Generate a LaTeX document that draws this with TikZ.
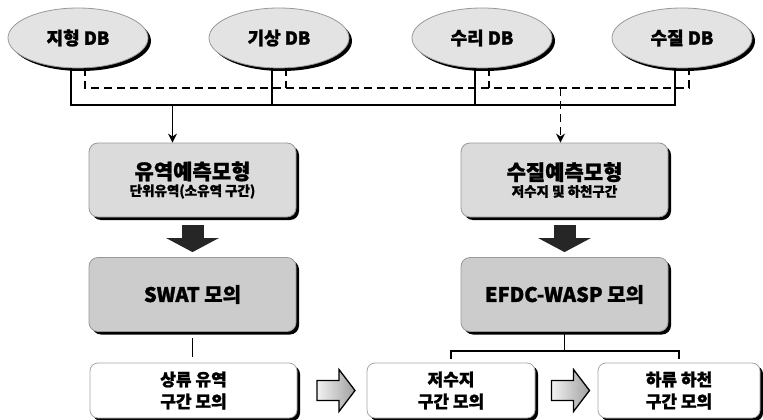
\documentclass[tikz,border=0pt]{standalone}
\usepackage{fontspec}
\setmainfont{Noto Sans CJK KR}[BoldFeatures={FakeBold=1.2}]
\usetikzlibrary{shapes.geometric,arrows.meta,calc,shadows}
\begin{document}
\begin{tikzpicture}[x=1pt,y=-1pt,
  shd/.style={drop shadow={shadow xshift=3pt,shadow yshift=-3pt,fill=black,opacity=1}},
  db/.style={ellipse, shd, draw=gray!80, line width=0.8pt, fill=gray!22,
    minimum width=140pt, minimum height=60pt, inner sep=0pt,
    font=\fontsize{18}{20}\selectfont\bfseries},
  model/.style={rectangle, rounded corners=9pt, shd, draw=gray!80, line width=0.8pt,
    fill=gray!28, minimum width=207pt, minimum height=74pt, align=center, inner sep=0pt,
    font=\bfseries},
  sim/.style={model, fill=gray!40, font=\fontsize{20}{24}\selectfont\bfseries},
  sect/.style={rectangle, rounded corners=8pt, shd, draw=gray!70, line width=0.8pt,
    fill=white, minimum height=55pt, align=center, inner sep=0pt,
    font=\fontsize{17}{22}\selectfont\bfseries},
  link/.style={line width=1.9pt, draw=black},
  dlink/.style={link, dash pattern=on 8pt off 5pt},
  tip/.style={-{Stealth[length=9pt,width=9pt]}},
  bigarrow/.style={line width=22pt, draw=black!85, -{Triangle[width=52pt,length=14pt]}},
  hollow/.style={draw=black, line width=1.3pt, left color=gray!10, right color=gray!75}
]
\useasboundingbox (0,0) rectangle (763,420);

% database ellipses
\node[db] (dbA) at (78,38) {지형 DB};
\node[db] (dbB) at (279,38) {기상 DB};
\node[db] (dbC) at (482,38) {수리 DB};
\node[db] (dbD) at (682,38) {수질 DB};

% model boxes
\node[model] (boxA) at (192.5,180)
  {\fontsize{21}{24}\selectfont 유역예측모형\\[2pt]\fontsize{13.5}{16}\selectfont 단위유역(소유역 구간)};
\node[model] (boxB) at (564.5,180)
  {\fontsize{21}{24}\selectfont 수질예측모형\\[2pt]\fontsize{13.5}{16}\selectfont 저수지 및 하천구간};

\node[sim] (swat) at (192.5,294.5) {SWAT 모의};
\node[sim] (efdc) at (564.5,294.5) {EFDC-WASP 모의};

% section boxes
\node[sect, minimum width=207pt] (up) at (193.5,390.5) {상류 유역\\구간 모의};
\node[sect, minimum width=168pt] (res) at (451,390.5) {저수지\\구간 모의};
\node[sect, minimum width=162pt] (down) at (679,390.5) {하류 하천\\구간 모의};

% solid bus (to watershed model)
\coordinate (sA) at ($(dbA.south)+(-7,37)$);
\coordinate (sD) at ($(dbD.south)+(-7,37)$);
\draw[link] ($(dbA.south)+(-7,0)$) -- (sA) -- (sD) -- ($(dbD.south)+(-7,0)$);
\draw[link] ($(dbB.south)+(-7,0)$) -- ($(dbB.south)+(-7,37)$);
\draw[link] ($(dbC.south)+(-7,0)$) -- ($(dbC.south)+(-7,37)$);

% dashed bus (to water quality model)
\coordinate (dA) at ($(dbA.south)+(7,20)$);
\coordinate (dD) at ($(dbD.south)+(7,20)$);
\draw[dlink] ($(dbA.south)+(7,0)$) -- (dA) -- (dD) -- ($(dbD.south)+(7,0)$);
\draw[dlink] ($(dbB.south)+(7,0)$) -- ($(dbB.south)+(7,20)$);
\draw[dlink] ($(dbC.south)+(7,0)$) -- ($(dbC.south)+(7,20)$);

% arrows into the model boxes
\coordinate (aTop) at ($(boxA.north)+(-20,0)$);
\coordinate (bTop) at ($(boxB.north)+(-4,0)$);
\draw[link,tip] (aTop |- sA) -- (aTop);
\draw[dlink,tip] (bTop |- dA) -- (bTop);

% thick arrows
\draw[bigarrow] ($(boxA.south)+(0,8)$) -- ($(swat.north)+(0,-5)$);
\draw[bigarrow] ($(boxB.south)+(0,8)$) -- ($(efdc.north)+(0,-5)$);

% SWAT -> upstream
\coordinate (sw1) at ($(swat.south)+(0,6)$);
\coordinate (sw2) at ($(up.north)+(0,-6)$);
\draw[link] (sw1) -- (sw1 |- sw2);

% EFDC bracket
\draw[link] (efdc.south) -- ++(0,19) coordinate (bj);
\draw[link] ($(res.north)+(0,-4)$) |- (bj) -| ($(down.north)+(0,-4)$);

% hollow arrows
\coordinate (m1) at ($(up.east)!0.5!(res.west)$);
\coordinate (m2) at ($(res.east)!0.5!(down.west)$);
\draw[hollow] ($(m1)+(-15,-10)$) -- ++(22,0) -- ++(0,-11) -- ++(16,21)
  -- ++(-16,21) -- ++(0,-11) -- ++(-22,0) -- cycle;
\draw[hollow] ($(m2)+(-15,-10)$) -- ++(22,0) -- ++(0,-11) -- ++(16,21)
  -- ++(-16,21) -- ++(0,-11) -- ++(-22,0) -- cycle;
\end{tikzpicture}
\end{document}
